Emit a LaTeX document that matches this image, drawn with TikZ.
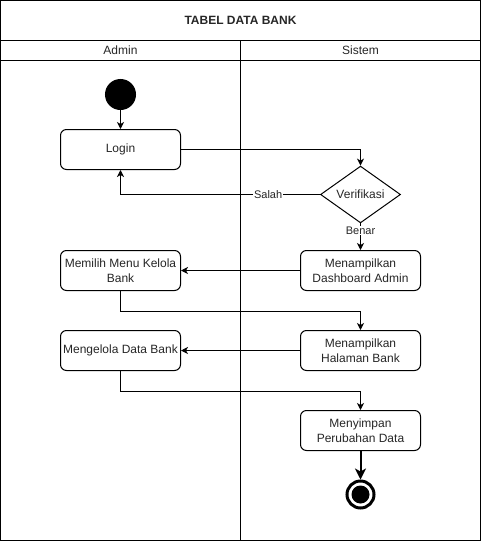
\documentclass[tikz,border=0pt]{standalone}
\usepackage{fontspec}
\setmainfont{Liberation Sans}
\usetikzlibrary{arrows.meta,shapes.geometric}
\begin{document}
\begin{tikzpicture}[x=1pt,y=-1pt,
  font=\fontsize{12}{14.5}\selectfont,
  every path/.style={line width=1pt},
  actbox/.style={draw,rounded corners=6pt,minimum width=120pt,minimum height=40pt,inner sep=0pt,align=center,text=black!85},
  decision/.style={draw,diamond,minimum width=80pt,minimum height=50pt,inner sep=0pt,text=black!85},
  flow/.style={draw,-{Stealth[length=7pt,width=7pt,inset=2pt]}},
  lbl/.style={fill=white,inner sep=1pt,font=\fontsize{11}{13}\selectfont,text=black!85},
  lanetext/.style={text=black!85}
]
\useasboundingbox (0,0) rectangle (481,541);
% swimlane frame
\draw (0.5,0.5) rectangle (480.5,540.5);
\draw (0.5,40.5) -- (480.5,40.5);
\draw (0.5,60.5) -- (480.5,60.5);
\draw (240.5,40.5) -- (240.5,540.5);
\node[lanetext,font=\fontsize{12}{14}\selectfont\bfseries] (title) at (240.5,20.5) {TABEL DATA BANK};
\node[lanetext] (admin) at (120.5,50.5) {Admin};
\node[lanetext] (sistem) at (360.5,50.5) {Sistem};
% nodes
\node[circle,fill=black,draw,minimum size=30pt,inner sep=0pt] (start) at (120.5,94.5) {};
\node[actbox] (login) at (120.5,149.5) {Login};
\node[decision] (ver) at (360.5,194.5) {Verifikasi};
\node[actbox] (dash) at (360.5,270.5) {Menampilkan\\Dashboard Admin};
\node[actbox] (memilih) at (120.5,270.5) {Memilih Menu Kelola\\Bank};
\node[actbox] (halaman) at (360.5,350.5) {Menampilkan\\Halaman Bank};
\node[actbox] (kelola) at (120.5,350.5) {Mengelola Data Bank};
\node[actbox] (simpan) at (360.5,430.5) {Menyimpan\\Perubahan Data};
\node[circle,draw,line width=3pt,minimum size=27pt,inner sep=0pt] (end) at (360.5,494.5) {};
\fill (end.center) circle (9pt);
% connectors
\draw[flow] (start) -- (login);
\draw[flow] (login.east) -| (ver.north);
\draw[flow] (ver.west) -| node[lbl,pos=0.13] {Salah} (login.south);
\draw[flow] (ver.south) -- node[lbl,pos=0.27] {Benar} (dash.north);
\draw[flow] (dash.west) -- (memilih.east);
\draw[flow] (memilih.south) -- ++(0,20) -| (halaman.north);
\draw[flow] (halaman.west) -- (kelola.east);
\draw[flow] (kelola.south) -- ++(0,20) -| (simpan.north);
\draw[line width=2pt,-{Stealth[length=11pt,width=11pt,inset=3pt]}] (simpan.south) -- (end.north);
\end{tikzpicture}
\end{document}
